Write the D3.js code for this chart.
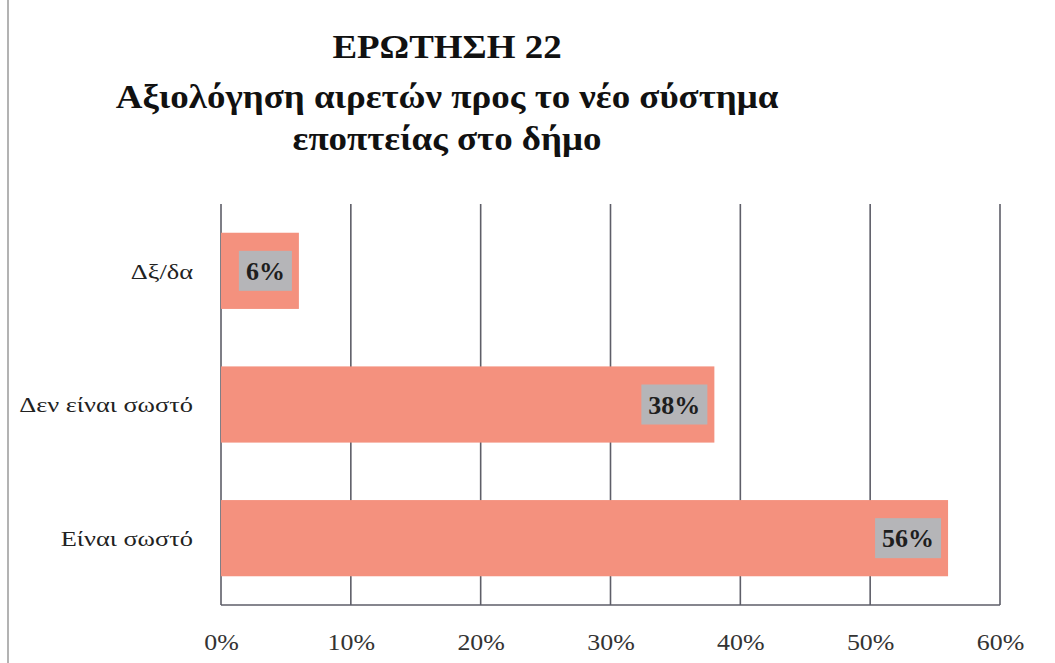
<!DOCTYPE html>
<html>
<head>
<meta charset="utf-8">
<script src="https://cdn.jsdelivr.net/npm/d3@7"></script>
<style>
body { margin: 0; background: #fff; }
svg { display: block; }
</style>
</head>
<body>
<script>
// Data
var categories = ["Δξ/δα", "Δεν είναι σωστό", "Είναι σωστό"];
var values = [0.06, 0.38, 0.56];
var valueLabels = ["6%", "38%", "56%"];
var tickValues = [0, 0.1, 0.2, 0.3, 0.4, 0.5, 0.6];
var titleLines = ["ΕΡΩΤΗΣΗ 22", "Αξιολόγηση αιρετών προς το νέο σύστημα", "εποπτείας στο δήμο"];

var W = 1055, H = 663;
var margin = { top: 204, right: 55, bottom: 58, left: 221 },
	width = W - margin.left - margin.right,
	height = H - margin.top - margin.bottom;

var serif = "'Liberation Serif', 'DejaVu Serif', serif";

var svg = d3.select("body").append("svg").attr("width", W).attr("height", H);

// scan edge on the left
svg.append("line").attr("x1", 8).attr("x2", 8).attr("y1", 0).attr("y2", H)
	.attr("stroke", "#9a9a9a").attr("stroke-width", 1.5);

// title (the scan is a bit stretched sideways)
svg.append("g").selectAll("text").data(titleLines).enter().append("text")
	.attr("transform", function(d, i) {
		return "translate(447," + [58, 108, 150][i] + ") scale(1.12,1)";
	})
	.attr("text-anchor", "middle")
	.style("font-family", serif)
	.style("font-weight", "bold")
	.style("font-size", "33px")
	.style("fill", "#111")
	.text(function(d) { return d; });

var g = svg.append("g").attr("transform", "translate(" + margin.left + "," + margin.top + ")");

var x = d3.scaleLinear().domain([0, 0.6]).range([0, width]);
var y = d3.scaleBand().domain(categories).range([0, height]).paddingInner(0.43).paddingOuter(0.215);

// grid
g.selectAll(".grid").data(tickValues).enter().append("line")
	.attr("x1", function(d) { return x(d); })
	.attr("x2", function(d) { return x(d); })
	.attr("y1", 0).attr("y2", height)
	.attr("stroke", "#5e5e68").attr("stroke-width", 1.6);
g.append("line").attr("x1", 0).attr("x2", width).attr("y1", height).attr("y2", height)
	.attr("stroke", "#5e5e68").attr("stroke-width", 1.6);

// bars
g.selectAll(".bar").data(values).enter().append("rect")
	.attr("x", x(0))
	.attr("y", function(d, i) { return y(categories[i]); })
	.attr("width", function(d) { return x(d) - x(0); })
	.attr("height", y.bandwidth())
	.style("fill", "#f4917e");

// value labels
var lab = g.selectAll(".lab").data(values).enter().append("g")
	.attr("transform", function(d, i) {
		return "translate(" + (x(d) - 7) + "," + (y(categories[i]) + y.bandwidth() / 2) + ")";
	});
lab.append("rect")
	.attr("x", function(d, i) { return valueLabels[i].length > 2 ? -66 : -53; })
	.attr("y", -20)
	.attr("width", function(d, i) { return valueLabels[i].length > 2 ? 66 : 53; })
	.attr("height", 40)
	.style("fill", "#b5b5b8");
lab.append("text")
	.attr("x", function(d, i) { return valueLabels[i].length > 2 ? -33 : -26.5; })
	.attr("y", 0).attr("dy", "0.35em")
	.attr("text-anchor", "middle")
	.style("font-family", serif)
	.style("font-weight", "bold")
	.style("font-size", "26px")
	.style("fill", "#1e1e1e")
	.text(function(d, i) { return valueLabels[i]; });

// category axis labels
g.selectAll(".cat").data(categories).enter().append("text")
	.attr("transform", function(d) {
		return "translate(-28," + (y(d) + y.bandwidth() / 2) + ") scale(1.2,1)";
	})
	.attr("dy", "0.35em")
	.attr("text-anchor", "end")
	.style("font-family", serif)
	.style("font-size", "22px")
	.style("fill", "#222")
	.text(function(d) { return d; });

// x axis
var xAxis = d3.axisBottom(x).tickValues(tickValues).tickFormat(d3.format(".0%")).tickSize(0).tickPadding(28);
var ax = g.append("g").attr("transform", "translate(0," + height + ")").call(xAxis);
ax.select(".domain").remove();
ax.selectAll("text")
	.attr("transform", "scale(1.08,1)")
	.style("font-family", serif)
	.style("font-size", "24px")
	.style("fill", "#333");
</script>
</body>
</html>
